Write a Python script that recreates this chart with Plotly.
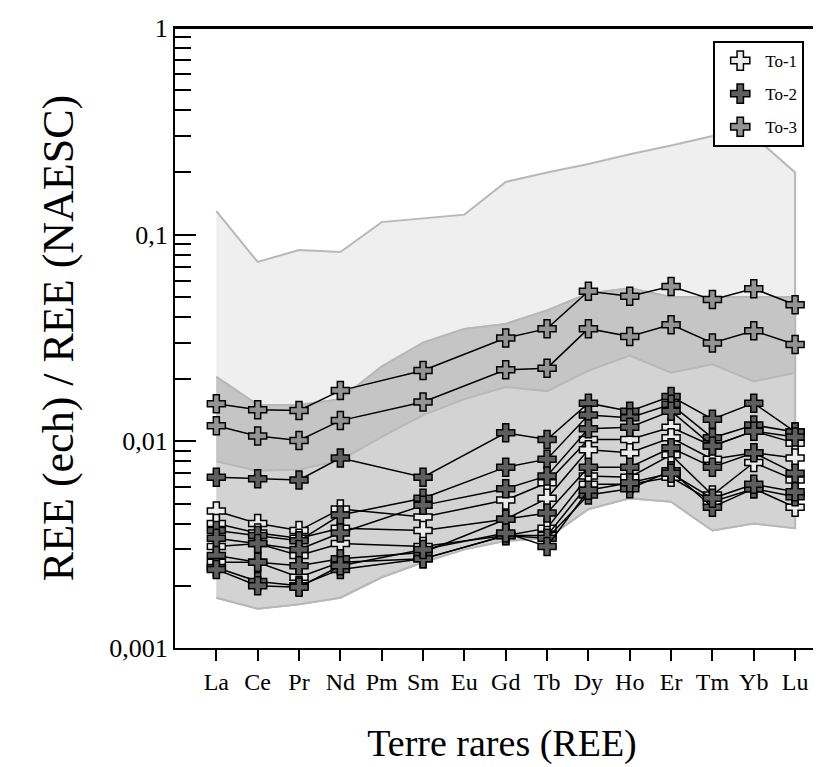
import plotly.graph_objects as go

# ---------------- data ----------------
elements = ["La", "Ce", "Pr", "Nd", "Pm", "Sm", "Eu", "Gd", "Tb", "Dy", "Ho", "Er", "Tm", "Yb", "Lu"]
measured = ["La", "Ce", "Pr", "Nd", "Sm", "Gd", "Tb", "Dy", "Ho", "Er", "Tm", "Yb", "Lu"]

# envelopes (all 15 elements)
env_light_upper = [0.13, 0.0738, 0.0843, 0.0824, 0.115, 0.12, 0.125, 0.18, 0.2, 0.22, 0.245, 0.27, 0.3, 0.3, 0.2]
env_mid_upper = [0.0205, 0.015, 0.015, 0.016, 0.023, 0.030, 0.035, 0.037, 0.043, 0.052, 0.055, 0.050, 0.050, 0.050, 0.050]
env_mid_lower = [0.0080, 0.0072, 0.0073, 0.0081, 0.0105, 0.0134, 0.016, 0.0183, 0.0175, 0.022, 0.026, 0.0215, 0.0236, 0.0195, 0.0214]
env_low_lower = [0.00175, 0.00155, 0.00163, 0.00175, 0.0022, 0.0026, 0.0030, 0.0033, 0.0034, 0.0047, 0.0053, 0.0051, 0.0037, 0.0040, 0.0038]

# To-1 samples
to1_a = [0.0046, 0.0040, 0.0037, 0.0047, 0.0043, 0.0052, 0.0063, 0.0102, 0.0102, 0.0117, 0.0095, 0.0112, 0.0098]
to1_b = [0.0040, 0.0036, 0.0034, 0.0038, 0.0037, 0.0042, 0.0053, 0.0091, 0.0088, 0.0104, 0.0082, 0.0088, 0.0083]
to1_c = [0.0031, 0.0032, 0.0028, 0.0032, 0.0031, 0.0035, 0.0038, 0.0068, 0.0067, 0.0086, 0.0055, 0.0079, 0.0065]
to1_d = [0.0026, 0.0026, 0.0022, 0.0026, 0.0027, 0.0035, 0.0035, 0.0062, 0.0062, 0.0067, 0.0051, 0.0059, 0.0048]

# To-2 samples
to2_a = [0.0067, 0.0066, 0.0065, 0.0083, 0.0067, 0.0110, 0.0102, 0.0153, 0.0140, 0.0165, 0.0128, 0.0153, 0.0111]
to2_b = [0.0037, 0.0035, 0.0033, 0.0044, 0.0053, 0.0075, 0.0082, 0.0134, 0.0130, 0.0151, 0.0104, 0.0120, 0.0111]
to2_c = [0.0034, 0.0032, 0.0030, 0.0036, 0.0049, 0.0059, 0.0068, 0.0115, 0.0117, 0.0140, 0.0095, 0.0112, 0.0105]
to2_d = [0.0028, 0.0026, 0.0025, 0.0027, 0.0029, 0.0042, 0.0045, 0.0075, 0.0075, 0.0093, 0.0075, 0.0088, 0.0070]
to2_e = [0.00245, 0.0021, 0.0020, 0.0024, 0.0027, 0.0035, 0.0034, 0.0055, 0.0059, 0.0072, 0.0048, 0.0059, 0.0054]
to2_f = [0.0024, 0.0020, 0.00197, 0.0025, 0.0030, 0.0036, 0.0031, 0.0058, 0.0063, 0.0070, 0.0053, 0.0062, 0.0057]

# To-3 samples
to3_a = [0.0152, 0.0142, 0.0141, 0.0176, 0.0220, 0.0316, 0.0351, 0.0532, 0.0503, 0.0562, 0.0485, 0.0548, 0.0458]
to3_b = [0.0119, 0.0106, 0.0101, 0.0126, 0.0155, 0.0222, 0.0226, 0.0351, 0.0322, 0.0367, 0.0299, 0.0343, 0.0294]

groups = ["To-1", "To-2", "To-3"]
group_series = {
    "To-1": [to1_a, to1_b, to1_c, to1_d],
    "To-2": [to2_a, to2_b, to2_c, to2_d, to2_e, to2_f],
    "To-3": [to3_a, to3_b],
}
group_fill = {"To-1": "#ececec", "To-2": "#5e5e5e", "To-3": "#939393"}

# ---------------- figure ----------------
FONT = "Liberation Serif, Times New Roman, serif"
pos_all = list(range(len(elements)))
pos_meas = [elements.index(e) for e in measured]

fig = go.Figure()

def band(upper, lower, fill):
    xs = pos_all + pos_all[::-1]
    ys = upper + lower[::-1]
    fig.add_trace(go.Scatter(x=xs, y=ys, mode="lines", fill="toself", fillcolor=fill,
                             line=dict(color="#b8b8b8", width=2), hoverinfo="skip",
                             showlegend=False))

band(env_light_upper, env_low_lower, "#efefef")
band(env_mid_upper, env_low_lower, "#d3d3d3")
band(env_mid_upper, env_mid_lower, "#c5c5c5")

for g in groups:
    for s in group_series[g]:
        fig.add_trace(go.Scatter(
            x=pos_meas, y=s, mode="lines+markers",
            line=dict(color="black", width=1.5),
            marker=dict(symbol="cross", size=15, color=group_fill[g],
                        line=dict(color="black", width=1.5)),
            showlegend=False, name=g))

for g in groups:
    fig.add_trace(go.Scatter(
        x=[None], y=[None], mode="markers", name=g, legendgroup=g,
        marker=dict(symbol="cross", size=16, color=group_fill[g],
                    line=dict(color="black", width=1.5))))

minor_vals = [m * 10 ** e for e in (-3, -2, -1) for m in range(2, 10)]

fig.update_layout(
    width=821, height=767,
    margin=dict(l=167, r=0, t=20, b=127),
    paper_bgcolor="white", plot_bgcolor="white",
    font=dict(family=FONT, color="black"),
    showlegend=True,
    legend=dict(x=0.823, y=0.979, xanchor="left", yanchor="top",
                bgcolor="white", bordercolor="black", borderwidth=2,
                font=dict(family=FONT, size=17, color="black"),
                traceorder="grouped", tracegroupgap=8, itemsizing="trace",
                itemwidth=40),
    xaxis=dict(
        range=[-1, 14.82], tickmode="array", tickvals=pos_all, ticktext=elements,
        ticks="outside", ticklen=11, tickwidth=2, tickcolor="black",
        showline=True, linewidth=2, linecolor="black", mirror=True,
        showgrid=False, zeroline=False,
        tickfont=dict(family=FONT, size=24, color="black"),
        title=dict(text="Terre rares (REE)", font=dict(family=FONT, size=38), standoff=36),
    ),
    yaxis=dict(
        type="log", range=[-3, 0],
        tickmode="array", tickvals=[0.001, 0.01, 0.1, 1], ticktext=["0,001", "0,01", "0,1", "1"],
        ticks="inside", ticklen=21, tickwidth=2, tickcolor="black",
        minor=dict(tickmode="array", tickvals=minor_vals, ticks="inside", ticklen=16,
                   tickwidth=2, tickcolor="black", showgrid=False),
        showline=True, linewidth=2, linecolor="black",
        showgrid=False, zeroline=False,
        tickfont=dict(family=FONT, size=26, color="black"),
        title=dict(text="REE (ech) / REE (NAESC)", font=dict(family=FONT, size=44), standoff=22),
    ),
    shapes=[dict(type="line", xref="paper", yref="paper", x0=0, x1=1, y0=1, y1=1,
                 line=dict(color="black", width=2))],
)

fig.write_html("out.html")
